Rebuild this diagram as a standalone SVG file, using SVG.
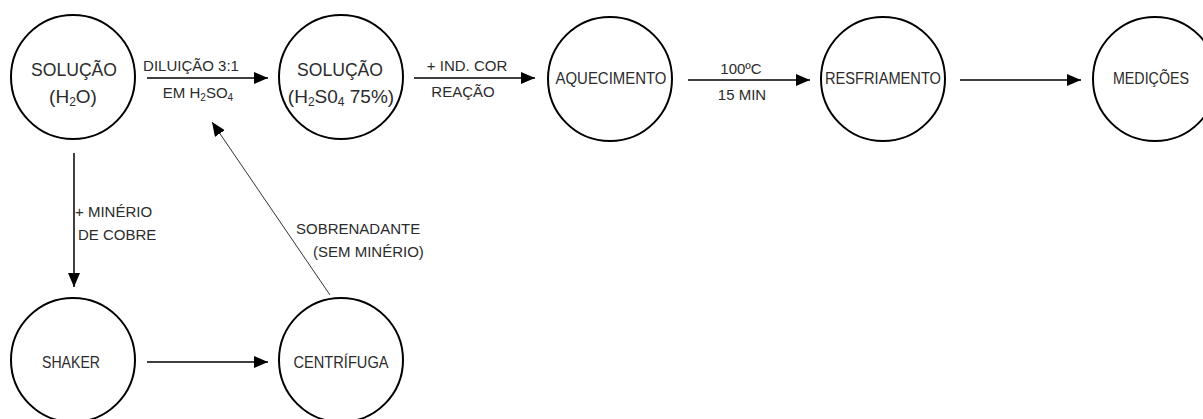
<svg xmlns="http://www.w3.org/2000/svg" width="1203" height="419" viewBox="0 0 1203 419">
<style>
.node{fill:#fff;stroke:#000;stroke-width:2}
.t{font-family:"Liberation Sans",Arial,sans-serif;fill:#2b2b2b}
.big{font-size:19px}
.nl{font-size:16.5px}
.lbl{font-size:15px}
.c{text-anchor:middle}
.edge{stroke:#000;stroke-width:1.5;fill:none}
.thin{stroke:#333;stroke-width:1;fill:none}
</style>
<defs>
<marker id="ah" markerUnits="userSpaceOnUse" markerWidth="15" markerHeight="13" refX="14" refY="6" orient="auto">
<path d="M0,0 L14,6 L0,12 z" fill="#000"/>
</marker>
</defs>
<rect width="1203" height="419" fill="#fff"/>
<g id="connectors">
<line class="edge" x1="147" y1="78" x2="268" y2="78" marker-end="url(#ah)"/>
<line class="edge" x1="414" y1="78" x2="535" y2="78" marker-end="url(#ah)"/>
<line class="edge" x1="688" y1="80" x2="810" y2="80" marker-end="url(#ah)"/>
<line class="edge" x1="960" y1="80" x2="1081" y2="80" marker-end="url(#ah)"/>
<line class="edge" x1="74" y1="153" x2="74" y2="287" marker-end="url(#ah)"/>
<line class="edge" x1="147" y1="362" x2="268" y2="362" marker-end="url(#ah)"/>
<line class="thin" x1="330" y1="295" x2="212" y2="122" marker-end="url(#ah)"/>
<text class="t lbl c" x="191" y="71">DILUIÇÃO 3:1</text>
<text class="t lbl c" x="198" y="98">EM H<tspan font-size="10" dy="3">2</tspan><tspan dy="-3">SO</tspan><tspan font-size="10" dy="3">4</tspan></text>
<text class="t lbl c" x="467" y="71">+ IND. COR</text>
<text class="t lbl c" x="463" y="97">REAÇÃO</text>
<text class="t lbl c" x="741" y="74">100ºC</text>
<text class="t lbl c" x="742" y="100">15 MIN</text>
<text class="t lbl" x="75" y="217">+ MINÉRIO</text>
<text class="t lbl" x="78" y="240">DE COBRE</text>
<text class="t lbl" x="296" y="234">SOBRENADANTE</text>
<text class="t lbl" x="313" y="257">(SEM MINÉRIO)</text>
</g>
<g id="n1">
<circle class="node" cx="73" cy="77" r="62"/>
<text class="t big c" x="74" y="76" textLength="86" lengthAdjust="spacingAndGlyphs">SOLUÇÃO</text>
<text class="t big c" x="73" y="103">(H<tspan font-size="12" dy="3">2</tspan><tspan dy="-3">O)</tspan></text>
</g>
<g id="n2">
<circle class="node" cx="341" cy="77" r="62"/>
<text class="t big c" x="340" y="76" textLength="86" lengthAdjust="spacingAndGlyphs">SOLUÇÃO</text>
<text class="t big c" x="341" y="103">(H<tspan font-size="12" dy="3">2</tspan><tspan dy="-3">S0</tspan><tspan font-size="12" dy="3">4</tspan><tspan dy="-3"> 75%)</tspan></text>
</g>
<g id="n3">
<circle class="node" cx="610" cy="79" r="62"/>
<text class="t nl c" x="611" y="84" textLength="111" lengthAdjust="spacingAndGlyphs">AQUECIMENTO</text>
</g>
<g id="n4">
<circle class="node" cx="883" cy="79" r="62"/>
<text class="t nl c" x="883" y="84" textLength="116" lengthAdjust="spacingAndGlyphs">RESFRIAMENTO</text>
</g>
<g id="n5">
<circle class="node" cx="1155" cy="79" r="62"/>
<text class="t nl c" x="1151" y="84" textLength="76" lengthAdjust="spacingAndGlyphs">MEDIÇÕES</text>
</g>
<g id="n6">
<circle class="node" cx="73" cy="360" r="62"/>
<text class="t nl c" x="71" y="368" textLength="58" lengthAdjust="spacingAndGlyphs">SHAKER</text>
</g>
<g id="n7">
<circle class="node" cx="341" cy="360" r="62"/>
<text class="t nl c" x="341" y="368" textLength="95" lengthAdjust="spacingAndGlyphs">CENTRÍFUGA</text>
</g>
</svg>
